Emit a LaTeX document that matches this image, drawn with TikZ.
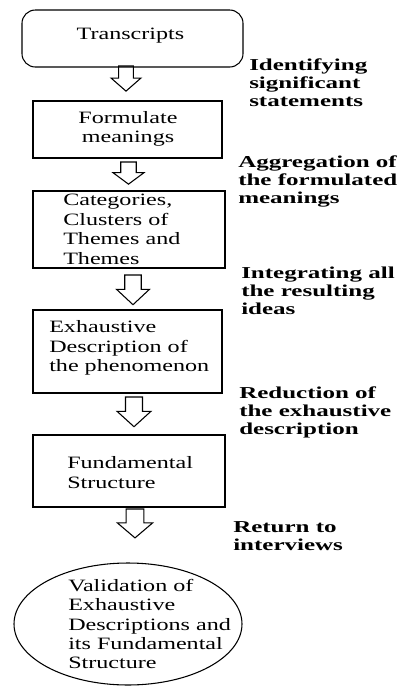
\documentclass[tikz,border=0pt]{standalone}
\usepackage{fontspec}
\setmainfont{Liberation Serif}[FakeStretch=1.39]
\newfontfamily\stepfont{Liberation Serif}[FakeStretch=1.5]
\usetikzlibrary{shapes.geometric}

\tikzset{blockarrow/.pic={
  \draw[line width=0.8pt] (-8,0) -- (8,0) -- (8,-13) -- (16,-13) -- (0,-27) -- (-16,-13) -- (-8,-13) -- cycle;
}}

\begin{document}
\begin{tikzpicture}[x=0.75pt,y=0.75pt,yscale=-1,xscale=1,
  boxshape/.style={draw, line width=0.8pt, inner sep=0pt},
  boxtext/.style={inner sep=0.75pt, align=left, font=\fontsize{13}{14.6}\selectfont},
  steplabel/.style={anchor=west, inner sep=0.75pt, align=left, font=\stepfont\bfseries\fontsize{12.5}{13.5}\selectfont}]
\useasboundingbox (0,0) rectangle (401,687);

%Shape: Rounded Rect
\node [boxshape, rounded corners=10pt, minimum width=165.75pt, minimum height=42.75pt] (trans) at (132.5,38.5) {};
%Shape: Rectangle
\node [boxshape, minimum width=141.75pt, minimum height=42.75pt] (form) at (127.5,129.5) {};
%Shape: Rectangle
\node [boxshape, minimum width=144pt, minimum height=57.75pt] (cat) at (129,229.5) {};
%Shape: Rectangle
\node [boxshape, minimum width=141.75pt, minimum height=62.25pt] (exh) at (127.5,351.5) {};
%Shape: Rectangle
\node [boxshape, minimum width=144pt, minimum height=54pt] (fund) at (129,471) {};
%Shape: Ellipse
\node [boxshape, ellipse, minimum width=171pt, minimum height=91.5pt] (valid) at (128,624) {};

%Down Arrows
\pic [scale=0.93] at (126,66) {blockarrow};
\pic [xscale=0.97, yscale=0.82] at (128.5,162) {blockarrow};
\pic [xscale=1.03, yscale=1.1] at (133,275) {blockarrow};
\pic [xscale=1.06, yscale=1.1] at (134,397) {blockarrow};
\pic [xscale=1.1, yscale=1.07] at (135,509) {blockarrow};

% Text Node
\node [boxtext] (transtext) at (130.5,36) {Transcripts};
% Text Node
\node [boxtext, align=center] (formtext) at (128,129) {Formulate\\meanings};
% Text Node
\node [boxtext, anchor=west] (cattext) at (62,229.5) {Categories,\\Clusters of\\Themes and\\Themes};
% Text Node
\node [boxtext, anchor=west] (exhtext) at (48,348) {Exhaustive\\Description of\\the phenomenon};
% Text Node
\node [boxtext, anchor=west] (fundtext) at (66,472.5) {Fundamental\\Structure};
% Text Node
\node [boxtext, anchor=west] (validtext) at (67,624) {Validation of\\Exhaustive\\Descriptions and\\its Fundamental\\Structure};

% Text Node
\node [steplabel] (identify) at (248,83) {Identifying\\significant\\statements};
% Text Node
\node [steplabel] (aggregate) at (237,181) {Aggregation of\\the formulated\\meanings};
% Text Node
\node [steplabel] (integrate) at (240,291) {Integrating all\\the resulting\\ideas};
% Text Node
\node [steplabel] (reduce) at (238,412.5) {Reduction of\\the exhaustive\\description};
% Text Node
\node [steplabel] (return) at (232,536.5) {Return to\\interviews};

\end{tikzpicture}
\end{document}
